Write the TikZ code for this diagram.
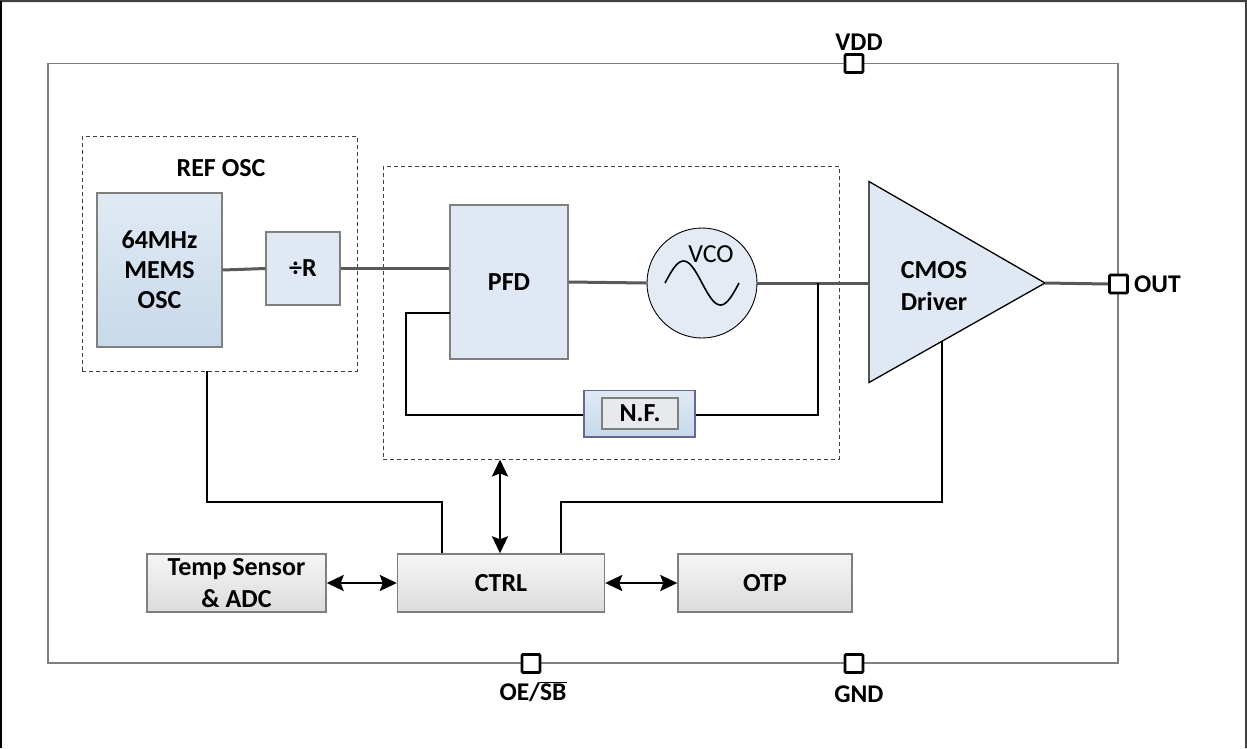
\documentclass[tikz,border=0pt]{standalone}
\usepackage{fontspec}
\setmainfont{Carlito}
\usetikzlibrary{arrows.meta}
\definecolor{sig}{HTML}{595959}
\definecolor{boxgray}{HTML}{7F7F7F}
\definecolor{bluefill}{HTML}{DFE8F3}
\definecolor{bluetop}{HTML}{E0EAF4}
\definecolor{bluebot}{HTML}{C7D9EA}
\definecolor{graytop}{HTML}{F5F5F5}
\definecolor{graybot}{HTML}{DCDCDC}
\newcommand\lblfont{\bfseries\fontsize{26}{31}\selectfont}
\newcommand\pinfont{\bfseries\fontsize{25.5}{30}\selectfont}
\begin{document}
\begin{tikzpicture}[x=1pt,y=-1pt,
  blk/.style={draw=boxgray, line width=1.4pt, inner sep=0pt, align=center, font=\lblfont},
  dashbox/.style={draw=black!75, line width=0.9pt, dash pattern=on 4pt off 3pt, inner sep=0pt},
  pinbox/.style={draw=black, line width=2.8pt, fill=white, minimum size=18pt, inner sep=0pt, rounded corners=1.2pt},
  sigline/.style={draw=sig, line width=3pt},
  ctlline/.style={draw=black, line width=2.4pt},
  dblarrow/.style={draw=black, line width=2.4pt, {Stealth[length=17pt,width=16pt,inset=3pt]}-{Stealth[length=17pt,width=16pt,inset=3pt]}},
  pinlabel/.style={font=\pinfont, inner sep=0pt}
]
\useasboundingbox (0,0) rectangle (1247,748);
% outer frame
\draw[black!75, line width=2pt] (0,748) -- (1,1) -- (1246,1) -- (1246,748);
\draw[black, line width=2pt] (1,1) -- (1,748);

% chip outline
\node (chip) [draw=boxgray, line width=1.5pt, minimum width=1070pt, minimum height=599.5pt, inner sep=0pt] at (583,363.25) {};

% pins
\node (vdd) [pinbox] at (854,63.5) {};
\node (outp) [pinbox] at (1118.5,284) {};
\node (oesb) [pinbox] at (531,663.5) {};
\node (gnd) [pinbox] at (854,663.5) {};
\node (vddlbl) [pinlabel] at (859,42) {VDD};
\node (outlbl) [pinlabel, anchor=west] at (1134,284) {OUT};
\node (oelbl) [pinlabel] at (533,692) {OE/$\overline{\mbox{SB}}$};
\node (gndlbl) [pinlabel] at (859,694) {GND};

% REF OSC group
\node (refosc) [dashbox, minimum width=275pt, minimum height=234.5pt] at (219.5,253.75) {};
\node (reflbl) [font=\lblfont, inner sep=0pt] at (221,168) {REF OSC};
\node (mems) [blk, top color=bluetop, bottom color=bluebot, minimum width=125pt, minimum height=154pt] at (159.5,270) {64MHz\\[-1pt]MEMS\\[-1pt]OSC};
\node (divr) [blk, fill=bluefill, minimum width=74pt, minimum height=73pt] at (303,268.5) {÷R};

% PLL group
\node (pll) [dashbox, minimum width=456pt, minimum height=292.5pt] at (611,312.75) {};
\node (pfd) [blk, fill=bluefill, minimum width=118pt, minimum height=154pt] at (509,282) {PFD};
\node (vco) [circle, draw=black, line width=0.9pt, fill=bluefill!85!white, minimum size=110pt, inner sep=0pt] at (702,283) {};
\node (vcolbl) [font=\fontsize{26}{30}\selectfont, inner sep=0pt] at (711,254) {VCO};
\draw[black, line width=1.6pt, domain=0:1, samples=60, smooth] plot ({665+74*\x}, {283-22*sin(360*\x)});
\node (nf) [draw=boxgray!80!blue, line width=1.2pt, top color=bluetop, bottom color=bluebot, minimum width=111pt, minimum height=46.5pt, inner sep=0pt] at (639.5,413.75) {};
\node (nfin) [draw=boxgray, line width=1.1pt, fill=bluefill!70!gray!40!white, minimum width=76pt, minimum height=31pt, inner sep=0pt, font=\lblfont] at (640,413.5) {N.F.};

% CMOS driver
\coordinate (dtop) at (869,181.5);
\coordinate (dbot) at (869,382.5);
\coordinate (dapex) at (1045,283);
\coordinate (drvin) at (869,283);
\coordinate (drvtap) at (942,341.2);
\filldraw[draw=black, line width=1.3pt, fill=bluefill] (dtop) -- (dapex) -- (dbot) -- cycle;
\node (drvlbl) [font=\lblfont, align=center, inner sep=0pt] at (934,286) {CMOS\\[1pt]Driver};

% control blocks
\node (temp) [blk, top color=graytop, bottom color=graybot, minimum width=179pt, minimum height=58pt] at (236.5,583) {Temp Sensor\\[1pt]\& ADC};
\node (ctrl) [blk, top color=graytop, bottom color=graybot, minimum width=207pt, minimum height=58pt] at (501,583) {CTRL};
\node (otp) [blk, top color=graytop, bottom color=graybot, minimum width=174pt, minimum height=58pt] at (765,583) {OTP};

% signal path
\draw[sigline] (mems.east) -- (divr.west);
\draw[sigline] (divr.east) -- (pfd.west |- divr.east);
\draw[sigline] (pfd.east) -- (vco.west);
\draw[sigline] (vco.east) -- (drvin);
\draw[sigline] (dapex) -- (outp.west);

% feedback loop
\coordinate (fbtap) at (818,283);
\coordinate (fbin) at (450,313);
\draw[ctlline] (fbtap) -- (818,415) -- (nf.east |- 0,415);
\draw[ctlline] (nf.west |- 0,415) -- (406,415) -- (406,313) -- (fbin);

% control connections
\draw[ctlline] (refosc.south -| 207,0) -- (207,502) -- (442,502) -- (ctrl.north -| 442,0);
\draw[ctlline] (drvtap) -- (942,502) -- (561,502) -- (ctrl.north -| 561,0);
\draw[dblarrow] (pll.south -| 500,0) -- (ctrl.north -| 500,0);
\draw[dblarrow] (temp.east) -- (ctrl.west);
\draw[dblarrow] (ctrl.east) -- (otp.west);
\end{tikzpicture}
\end{document}
